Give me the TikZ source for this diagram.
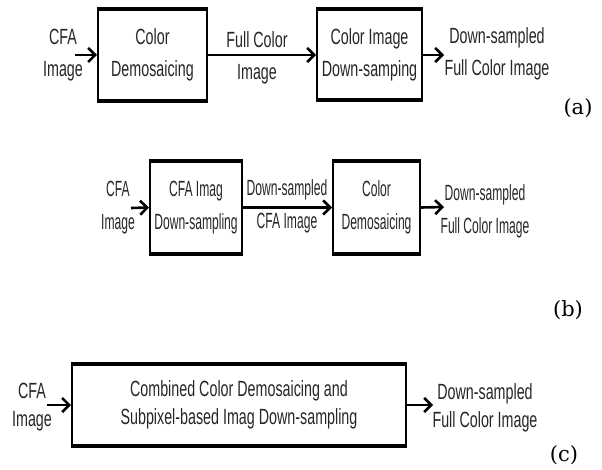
\documentclass[tikz,border=0pt]{standalone}
\usepackage{fontspec}
\setmainfont{Liberation Sans}
\newfontfamily\fa[FakeStretch=0.65]{Liberation Sans}
\newfontfamily\fb[FakeStretch=0.55]{Liberation Sans}
\newfontfamily\fc[FakeStretch=0.65]{Liberation Sans}
\newfontfamily\lab{DejaVu Serif}
\usetikzlibrary{arrows.meta}
\tikzset{
  blk/.style={draw, line width=2pt, inner sep=0pt, align=center},
  txa/.style={font=\fa\fontsize{22}{32}\selectfont, align=center, inner sep=0pt, text=black!85},
  txb/.style={font=\fb\fontsize{22}{33}\selectfont, align=center, inner sep=0pt, text=black!85},
  txc/.style={font=\fc\fontsize{22}{28}\selectfont, align=center, inner sep=0pt, text=black!85},
  arr/.style={line width=2.6pt, -{Straight Barb[length=7pt,width=14pt]}},
  edge/.style={line width=4.5pt},
  sublab/.style={font=\lab\fontsize{21}{25}\selectfont, inner sep=0pt}
}
\begin{document}
\begin{tikzpicture}[x=1pt,y=-1pt]
\useasboundingbox (0,0) rectangle (602,470);
% ---------- (a)
\node[txa] (ina) at (63,55) {CFA\\Image};
\coordinate (ina0) at (75,55);
\node[blk, txa, minimum width=109pt, minimum height=90pt] (a1) at (152.5,55) {Color\\Demosaicing};
\node[blk, txa, minimum width=105pt, minimum height=89pt] (a2) at (369.5,54.5) {Color Image\\Down-samping};
\node[txa] (la1) at (257,58) {Full Color\\Image};
\node[txa] (outa) at (497,54) {Down-sampled\\Full Color Image};
\coordinate (outa0) at (444,55);
\node[sublab] (la) at (578,108) {(a)};
\draw[arr] (ina0) -- (a1.west);
\draw[arr] (a1.east) -- (a2.west |- a1.east);
\draw[arr] (a2.east |- outa0) -- (outa0);
\foreach \n in {a1,a2}{
  \draw[edge] (\n.north west) -- (\n.north east);
  \draw[edge] (\n.south west) -- (\n.south east);
}
% ---------- (b)
\node[txb] (inb) at (118,208) {CFA\\Image};
\coordinate (inb0) at (131,208);
\node[blk, txb, minimum width=92pt, minimum height=91pt] (b1) at (196,207.5) {CFA Imag\\Down-sampling};
\node[blk, txb, minimum width=87pt, minimum height=91pt] (b2) at (376.5,207.5) {Color\\Demosaicing};
\node[txb] (lb1) at (287,206) {Down-sampled\\CFA Image};
\node[txb] (outb) at (485,211) {Down-sampled\\Full Color Image};
\coordinate (outb0) at (444,207);
\node[sublab] (lb) at (568,310) {(b)};
\draw[arr] (inb0) -- (b1.west);
\draw[arr] (b1.east) -- (b2.west);
\draw[arr] (b2.east) -- (outb0);
\foreach \n in {b1,b2}{
  \draw[edge] (\n.north west) -- (\n.north east);
  \draw[edge] (\n.south west) -- (\n.south east);
}
% ---------- (c)
\node[txc] (inc) at (32,407) {CFA\\Image};
\coordinate (inc0) at (47,405);
\node[blk, txc, minimum width=334pt, minimum height=80pt] (c1) at (239,405) {Combined Color Demosaicing and\\Subpixel-based Imag Down-sampling};
\node[txc] (outc) at (485,408) {Down-sampled\\Full Color Image};
\coordinate (outc0) at (433,405);
\node[sublab] (lc) at (564,455) {(c)};
\draw[arr] (inc0) -- (c1.west);
\draw[arr] (c1.east) -- (outc0);
\draw[edge] (c1.north west) -- (c1.north east);
\draw[edge] (c1.south west) -- (c1.south east);
\end{tikzpicture}
\end{document}
